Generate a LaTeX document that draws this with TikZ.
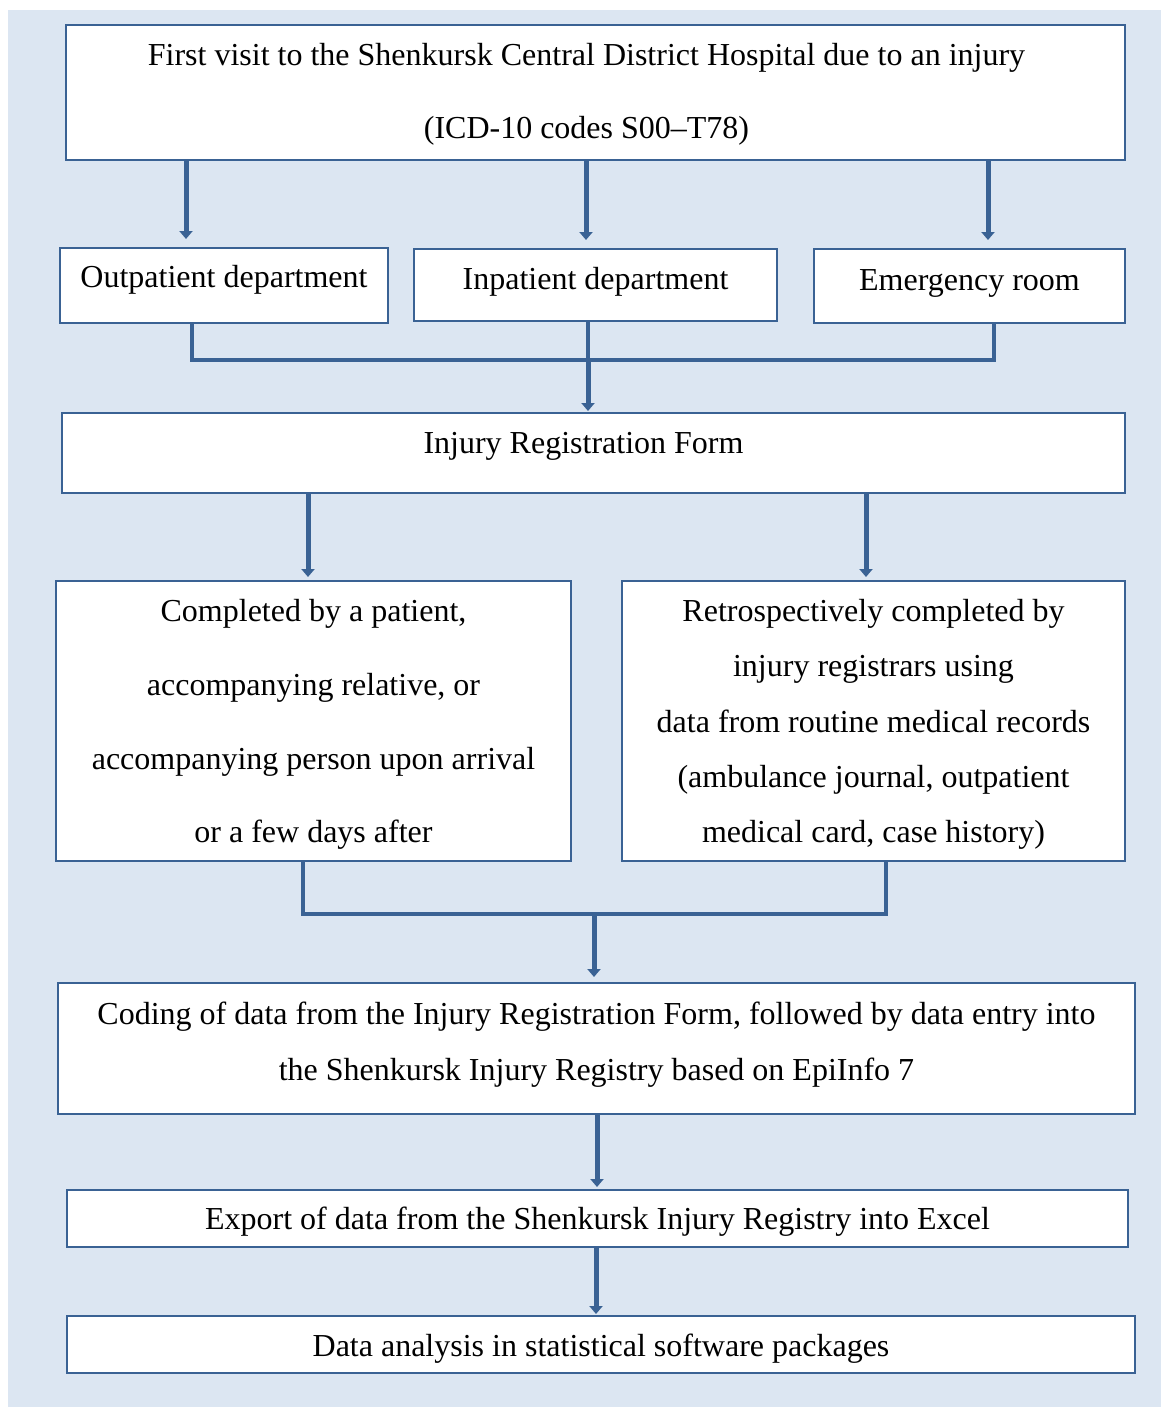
\documentclass[tikz,border=0pt]{standalone}
\usepackage{fontspec}
\setmainfont{Liberation Serif}
\usetikzlibrary{arrows.meta}
\definecolor{bgblue}{HTML}{DCE6F2}
\definecolor{lineblue}{HTML}{3A6294}
\tikzset{
  box/.style={draw=lineblue, line width=2pt, fill=white, inner sep=0pt},
  txt/.style={inner sep=0pt, align=center, text=black},
  arr/.style={draw=lineblue, line width=5pt, -{Triangle[width=13pt,length=8pt]}},
  link/.style={draw=lineblue, line width=4pt},
}
\newcommand{\fs}[1]{\fontsize{32}{#1}\selectfont}
\begin{document}
\begin{tikzpicture}[x=1pt,y=-1pt]
\useasboundingbox (0,0) rectangle (1161,1407);
\fill[bgblue] (8,10) rectangle (1161,1407);

\node[box, minimum width=1059pt, minimum height=135pt] (visit) at (595.5,92.5) {};
\node[box, minimum width=328pt, minimum height=75pt] (outp) at (224,285.5) {};
\node[box, minimum width=363pt, minimum height=72pt] (inp) at (595.5,285) {};
\node[box, minimum width=311pt, minimum height=74pt] (emer) at (969.5,286) {};
\node[box, minimum width=1063pt, minimum height=80pt] (irf) at (593.5,453) {};
\node[box, minimum width=515pt, minimum height=280pt] (patient) at (313.5,721) {};
\node[box, minimum width=503pt, minimum height=280pt] (retro) at (873.5,721) {};
\node[box, minimum width=1077pt, minimum height=131pt] (coding) at (596.5,1048.5) {};
\node[box, minimum width=1061pt, minimum height=57pt] (export) at (597.5,1218.5) {};
\node[box, minimum width=1068pt, minimum height=57pt] (analysis) at (601,1344.5) {};

\node[txt, font=\fs{73}] (visitT) at ([shift={(-9,2)}]visit.center)
  {First visit to the Shenkursk Central District Hospital due to an injury\\(ICD-10 codes S00–T78)};
\node[txt, font=\fs{38}] (outpT) at ([shift={(0,-6)}]outp.center) {Outpatient department};
\node[txt, font=\fs{38}] (inpT) at ([shift={(0,-3)}]inp.center) {Inpatient department};
\node[txt, font=\fs{38}] (emerT) at ([shift={(0,-3)}]emer.center) {Emergency room};
\node[txt, font=\fs{38}] (irfT) at ([shift={(-10,-7)}]irf.center) {Injury Registration Form};
\node[txt, font=\fs{73.7}] (patientT) at ([shift={(0,3.5)}]patient.center)
  {Completed by a patient,\\accompanying relative, or\\accompanying person upon arrival\\or a few days after};
\node[txt, font=\fs{55.3}] (retroT) at ([shift={(0,3.5)}]retro.center)
  {Retrospectively completed by\\injury registrars using\\data from routine medical records\\(ambulance journal, outpatient\\medical card, case history)};
\node[txt, font=\fs{56}] (codingT) at ([shift={(0,-4)}]coding.center)
  {Coding of data from the Injury Registration Form, followed by data entry into\\the Shenkursk Injury Registry based on EpiInfo 7};
\node[txt, font=\fs{38}] (exportT) at ([shift={(0,3)}]export.center)
  {Export of data from the Shenkursk Injury Registry into Excel};
\node[txt, font=\fs{38}] (analysisT) at ([shift={(0,4)}]analysis.center)
  {Data analysis in statistical software packages};

% x positions of connectors
\coordinate (xa) at (186,0);
\coordinate (xb) at (586,0);
\coordinate (xc) at (988,0);
\coordinate (busone) at (588,360);
\coordinate (xo) at (192,0);
\coordinate (xe) at (994,0);
\coordinate (xl) at (308,0);
\coordinate (xr) at (866,0);
\coordinate (bustwo) at (594,914);
\coordinate (xp) at (303,0);
\coordinate (xq) at (886,0);
\coordinate (xs) at (597,0);
\coordinate (xt) at (596,0);

\draw[arr, shorten >=8pt] (visit.south -| xa) -- (outp.north -| xa);
\draw[arr, shorten >=8pt] (visit.south -| xb) -- (inp.north -| xb);
\draw[arr, shorten >=8pt] (visit.south -| xc) -- (emer.north -| xc);

\draw[link] (outp.south -| xo) |- (busone);
\draw[link] (emer.south -| xe) |- (busone);
\draw[link] (inp.south -| busone) -- (busone);
\draw[arr, shorten >=1pt] (busone) -- (irf.north -| busone);

\draw[arr, shorten >=3pt] (irf.south -| xl) -- (patient.north -| xl);
\draw[arr, shorten >=3pt] (irf.south -| xr) -- (retro.north -| xr);

\draw[link] (patient.south -| xp) |- (bustwo);
\draw[link] (retro.south -| xq) |- (bustwo);
\draw[arr, shorten >=5pt] (bustwo) -- (coding.north -| bustwo);

\draw[arr, shorten >=2pt] (coding.south -| xs) -- (export.north -| xs);
\draw[arr, shorten >=1pt] (export.south -| xt) -- (analysis.north -| xt);
\end{tikzpicture}
\end{document}
